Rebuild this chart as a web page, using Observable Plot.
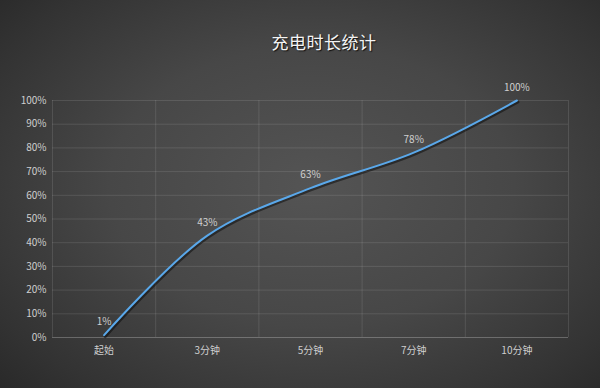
<!DOCTYPE html>
<html>
<head>
<meta charset="utf-8">
<script src="https://cdn.jsdelivr.net/npm/d3@7"></script>
<script src="https://cdn.jsdelivr.net/npm/@observablehq/plot@0.6"></script>
<style>
  html, body { margin: 0; padding: 0; }
  #wrap {
    position: relative; width: 600px; height: 388px; overflow: hidden;
    background: radial-gradient(ellipse 75% 80% at 52% 48%, #545454 0%, #474747 45%, #333333 80%, #262626 100%);
    font-family: "Noto Sans CJK SC", "Noto Sans", sans-serif;
  }
  #title {
    position: absolute; left: 0; width: 648px; top: 29px; text-align: center;
    font-size: 17px; color: #f4f4f4; letter-spacing: 0.5px;
    text-shadow: 1px 1px 1px #111;
  }
  #chart { position: absolute; left: 0; top: 70px; }
</style>
</head>
<body>
<div id="wrap">
  <div id="title">充电时长统计</div>
  <div id="chart"></div>
</div>
<script>
const categories = ["起始", "3分钟", "5分钟", "7分钟", "10分钟"];
const values = [0.01, 0.43, 0.63, 0.78, 1.00];
const valueLabels = ["1%", "43%", "63%", "78%", "100%"];
const yTicks = [0, 0.1, 0.2, 0.3, 0.4, 0.5, 0.6, 0.7, 0.8, 0.9, 1.0];

const data = categories.map((c, i) => ({ i, cat: c, v: values[i], label: valueLabels[i] }));
const bounds = d3.range(categories.length + 1).map(k => k - 0.5);
const gridColor = "rgba(255,255,255,0.11)";
const textColor = "#cfcfcf";

const plot = Plot.plot({
  width: 600,
  height: 318,
  marginTop: 30,
  marginBottom: 51,
  marginLeft: 52,
  marginRight: 32,
  style: { background: "transparent", fontFamily: "'Noto Sans CJK SC', sans-serif", fontSize: "10px", color: textColor },
  x: { type: "linear", domain: [-0.5, categories.length - 0.5], label: null },
  y: { domain: [0, 1], label: null },
  marks: [
    Plot.ruleY(yTicks, { stroke: gridColor, strokeWidth: 1 }),
    Plot.ruleX(bounds, { stroke: gridColor, strokeWidth: 1 }),
    Plot.ruleY([0], { stroke: "rgba(255,255,255,0.16)" }),
    Plot.axisY({ ticks: yTicks, tickFormat: d => Math.round(d * 100) + "%", tickSize: 0, tickPadding: 6, fill: textColor, fontSize: 10, label: null }),
    Plot.axisX({ ticks: d3.range(categories.length), tickFormat: d => categories[d], tickSize: 0, tickPadding: 9, fill: textColor, fontSize: 10, label: null }),
    Plot.line(data, { x: "i", y: "v", curve: "catmull-rom", stroke: "#000", strokeOpacity: 0.45, strokeWidth: 3, dx: 1, dy: 1.5 }),
    Plot.line(data, { x: "i", y: "v", curve: "catmull-rom", stroke: "#5aa8ea", strokeWidth: 2 }),
    Plot.text(data, { x: "i", y: "v", text: "label", dy: -13, fill: textColor, fontSize: 10 })
  ]
});
document.getElementById("chart").appendChild(plot);
</script>
</body>
</html>
